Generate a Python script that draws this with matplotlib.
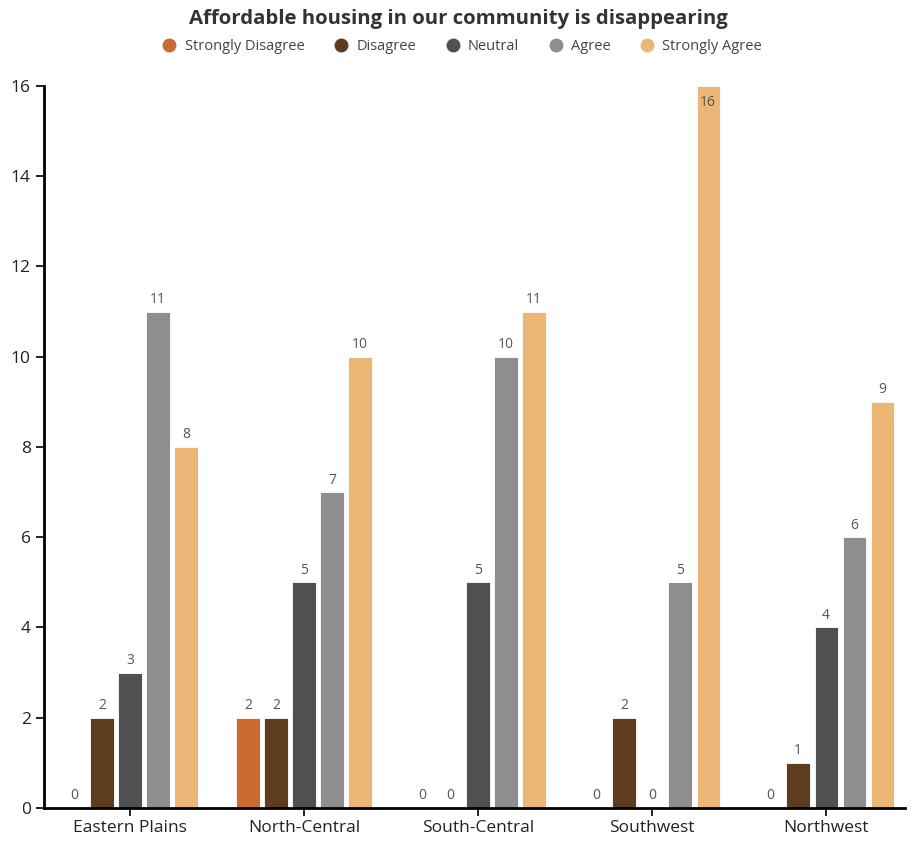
import numpy as np
import matplotlib.pyplot as plt
from matplotlib.lines import Line2D

plt.rcParams['font.family'] = ['Open Sans', 'DejaVu Sans']

regions = ["Eastern Plains", "North-Central", "South-Central", "Southwest", "Northwest"]
responses = ["Strongly Disagree", "Disagree", "Neutral", "Agree", "Strongly Agree"]
counts = {
    "Strongly Disagree": [0, 2, 0, 0, 0],
    "Disagree":          [2, 2, 0, 2, 1],
    "Neutral":           [3, 5, 5, 0, 4],
    "Agree":             [11, 7, 10, 5, 6],
    "Strongly Agree":    [8, 10, 11, 16, 9],
}
colors = ["#C96A30", "#5E3C1E", "#505050", "#8E8E8E", "#EBB676"]
y_ticks = [0, 2, 4, 6, 8, 10, 12, 14, 16]

fig = plt.figure(figsize=(9.17, 8.42), dpi=100)
ax = fig.add_axes([0.048, 0.0404, 0.939, 0.8576])

x = np.arange(len(regions))
step = 0.161
width = 0.133
ymax = 16

for i, (resp, col) in enumerate(zip(responses, colors)):
    pos = x + (i - 2) * step
    vals = counts[resp]
    ax.bar(pos, vals, width=width, color=col, edgecolor='white', linewidth=0.6, zorder=2)
    for px, v in zip(pos, vals):
        if v >= ymax:
            # tallest bar hits the top of the axis, so its label sits inside
            ax.text(px, v - 0.2, str(v), ha='center', va='top', fontsize=10, color='#555555')
        else:
            ax.text(px, v + 0.1, str(v), ha='center', va='bottom', fontsize=10, color='#555555')

ax.set_xlim(-0.494, 4.454)
ax.set_ylim(0, ymax)
ax.set_yticks(y_ticks)
ax.set_xticks(x)
ax.set_xticklabels(regions)
ax.tick_params(axis='both', labelsize=12.5, colors='black', length=6, width=1.2, labelcolor='#222222')
ax.tick_params(axis='x', pad=3)
for s in ['top', 'right']:
    ax.spines[s].set_visible(False)
for s in ['left', 'bottom']:
    ax.spines[s].set_linewidth(2)
    ax.spines[s].set_color('black')

fig.text(0.5, 0.978, "Affordable housing in our community is disappearing",
         ha='center', va='center', fontsize=14.7, fontweight='bold', color='#333333')

handles = [Line2D([], [], marker='o', linestyle='', markersize=9, color=c) for c in colors]
fig.legend(handles, responses, loc='center', bbox_to_anchor=(0.5, 0.945), ncol=5,
           frameon=False, fontsize=10.5, handletextpad=0.05, columnspacing=1.5,
           labelcolor='#444444')

fig.savefig("out.png", dpi=100)
